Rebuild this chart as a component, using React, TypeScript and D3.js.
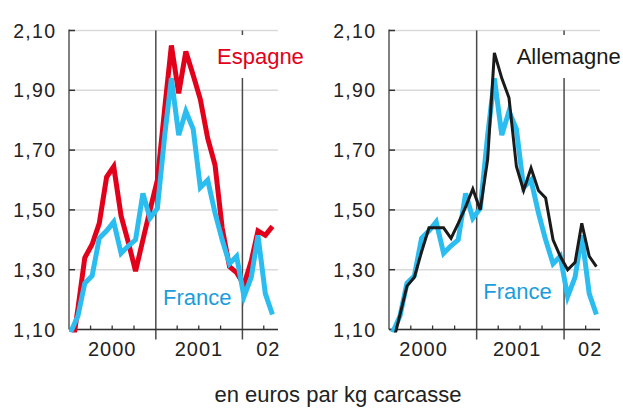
import React from "react";
import * as d3 from "d3";

// Jan 2000 .. May 2002, monthly
const months = d3.timeMonth.range(new Date(2000, 0, 1), new Date(2002, 5, 1));

const france = [
  1.09, 1.145, 1.255, 1.28, 1.405, 1.43, 1.46, 1.355, 1.38, 1.4, 1.555, 1.472,
  1.505, 1.75, 1.94, 1.75, 1.83, 1.77, 1.575, 1.6, 1.49, 1.4, 1.32, 1.345,
  1.21, 1.275, 1.415, 1.22, 1.15,
];

const espagne = [
  1.0, 1.17, 1.34, 1.385, 1.455, 1.61, 1.645, 1.48, 1.39, 1.295, 1.4, 1.5,
  1.6, 1.84, 2.05, 1.89, 2.03, 1.95, 1.87, 1.74, 1.65, 1.44, 1.31, 1.29,
  1.25, 1.33, 1.43, 1.415, 1.445,
];

const allemagne = [
  1.05, 1.15, 1.245, 1.275, 1.36, 1.44, 1.44, 1.44, 1.405, 1.455, 1.51, 1.57,
  1.5, 1.67, 2.025, 1.94, 1.875, 1.645, 1.565, 1.64, 1.565, 1.54, 1.4, 1.345,
  1.3, 1.325, 1.455, 1.345, 1.31,
];

const yTicks = [1.1, 1.3, 1.5, 1.7, 1.9, 2.1];
const yearLabels = ["2000", "2001", "02"];
const yearLabelDates = [new Date(2000, 6, 1), new Date(2001, 6, 2), new Date(2002, 3, 20)];
const yearBreaks = [new Date(2001, 0, 1), new Date(2002, 0, 1)];

const RED = "#e2001a";
const BLUE = "#2bbdf0";
const BLUE_TXT = "#1b9ddb";
const DARK = "#1a1a1a";
const FONT = "Arial, 'Liberation Sans', Helvetica, sans-serif";

const fmt = d3.formatLocale({ decimal: ",", thousands: ".", grouping: [3], currency: ["", "€"] }).format(".2f");

const midMonth = (d: Date) => d3.timeDay.offset(d, 15);

type Series = { values: number[]; color: string; width: number };

function Panel({ id, left, right, dataShift, labelShift, series, name, nameColor, nameX, franceX, franceY }: {
  id: string; left: number; right: number; dataShift: number; labelShift: number[]; series: Series[];
  name: string; nameColor: string; nameX: number; franceX: number; franceY: number;
}) {
  const x = d3.scaleTime().domain([new Date(2000, 0, 1), new Date(2002, 4, 31)]).range([left, right]);
  const y = d3.scaleLinear().domain([1.1, 2.1]).range([329.5, 30.5]);
  const [yBottom, yTop] = y.range();

  const line = (vals: number[]) =>
    d3.line<number>()
      .x((_, i) => x(midMonth(months[i])) + dataShift)
      .y((v) => y(v))(vals) || "";

  const quarterMarks = d3.timeMonth.every(3)!.range(new Date(2000, 3, 1), new Date(2002, 5, 1))
    .filter((d) => d.getMonth() !== 0 && x(d) <= right);

  return (
    <g>
      <defs>
        <clipPath id={id}>
          <rect x={left} y={0} width={right - left + 4} height={yBottom + 3} />
        </clipPath>
      </defs>
      {yTicks.map((t) => (
        <line key={t} x1={left} x2={right} y1={y(t)} y2={y(t)} stroke="#d9d9d9" strokeWidth={1.5} />
      ))}
      {yearBreaks.map((d) => (
        <line key={+d} x1={x(d)} x2={x(d)} y1={yTop} y2={yBottom + 10} stroke="#4a4a4a" strokeWidth={1.5} />
      ))}
      <rect x={nameX - 3} y={35} width={name.length * 13.5 + 8} height={43} fill="#fff" />
      <text x={nameX} y={64} fontSize={22} fill={nameColor} fontFamily={FONT}>{name}</text>
      <line x1={left} x2={left} y1={yTop - 1} y2={yBottom} stroke="#808080" strokeWidth={2} />
      {yTicks.map((t) => (
        <g key={t}>
          <line x1={left} x2={left + 6} y1={y(t)} y2={y(t)} stroke="#333" strokeWidth={1.5} />
          <text x={left - 12.7} y={y(t)} dy="0.36em" textAnchor="end" fontSize={19.5}
            letterSpacing={1.3} fill="#222" fontFamily={FONT}>{fmt(t)}</text>
        </g>
      ))}
      <line x1={left} x2={right} y1={yBottom} y2={yBottom} stroke="#333" strokeWidth={1.5} />
      {quarterMarks.map((d) => (
        <line key={+d} x1={x(d)} x2={x(d)} y1={yBottom - 4} y2={yBottom} stroke="#333" strokeWidth={1.3} />
      ))}
      {yearLabels.map((l, i) => (
        <text key={l} x={x(yearLabelDates[i]) + labelShift[i]} y={355.7} textAnchor="middle" fontSize={20}
          letterSpacing={1} fill="#222" fontFamily={FONT}>{l}</text>
      ))}
      <g clipPath={`url(#${id})`}>
        {series.map((s, i) => (
          <path key={i} d={line(s.values)} fill="none" stroke={s.color} strokeWidth={s.width}
            strokeLinejoin="miter" strokeMiterlimit={4} />
        ))}
      </g>
      <text x={franceX} y={franceY} fontSize={22} fill={BLUE_TXT} fontFamily={FONT}>France</text>
    </g>
  );
}

export default function App() {
  return (
    <div style={{ position: "absolute", left: 0, top: 0 }}>
      <svg width={623} height={408} style={{ display: "block", background: "#fff" }}>
        <Panel id="clipL" left={69} right={278} dataShift={-2} labelShift={[0, 0, 0]}
          series={[{ values: espagne, color: RED, width: 5 }, { values: france, color: BLUE, width: 5 }]}
          name="Espagne" nameColor={RED} nameX={217} franceX={163} franceY={305} />
        <Panel id="clipR" left={389} right={600} dataShift={0} labelShift={[-9, -3, 0]}
          series={[{ values: france, color: BLUE, width: 5 }, { values: allemagne, color: DARK, width: 3 }]}
          name="Allemagne" nameColor={DARK} nameX={516.7} franceX={483.3} franceY={299} />
        <text x={338} y={402} textAnchor="middle" fontSize={22} fill="#222" fontFamily={FONT}>
          en euros par kg carcasse
        </text>
      </svg>
    </div>
  );
}
